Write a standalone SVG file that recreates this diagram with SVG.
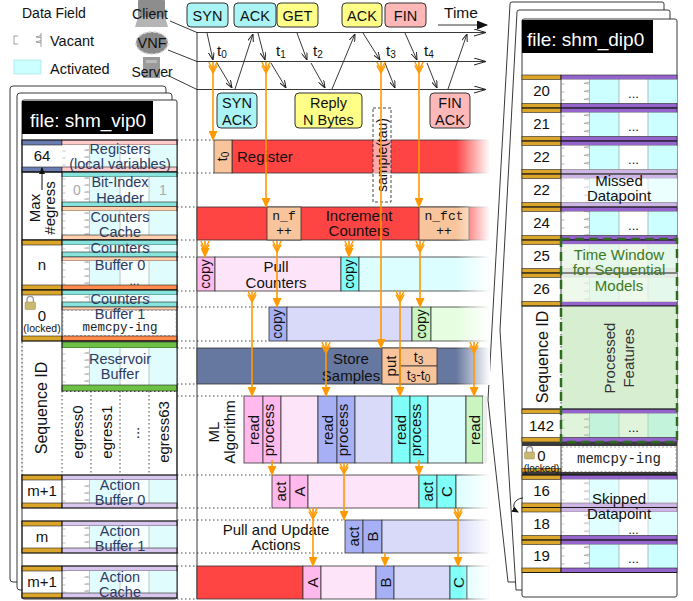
<svg xmlns="http://www.w3.org/2000/svg" width="693" height="601" viewBox="0 0 693 601" font-size="15">
<style>
text{font-family:"Liberation Sans",Arial,sans-serif;fill:#111}
.m{font-family:"Liberation Mono","DejaVu Sans Mono",monospace}
.c{text-anchor:middle}
.lt{text-anchor:middle;fill:#2d3b62;font-size:14.5px}
.ln{stroke:#222;stroke-width:0.9;fill:none}
.dot{stroke:#333;stroke-width:0.9;stroke-dasharray:1.5 2.5;fill:none}
.oa{stroke:#f90;stroke-width:1.6;fill:none}
.bx{stroke:#333;stroke-width:0.8}
.b{stroke:#222;stroke-width:0.6}
.red{fill:#ff4444}.pch{fill:#f8c49c}.pk{fill:#ffb9ec}.lpk{fill:#fde4f8}
.cy{fill:#80fff8}.lcy{fill:#ddfeff}.bl{fill:#a7b0f5}.lbl{fill:#d9dafa}
.gr{fill:#c8f5c0}.lgr{fill:#e6fde0}.dk{fill:#66789f}
.gd{fill:#dba52a;stroke:#222;stroke-width:0.6}
.pp{fill:#9464cc;stroke:#222;stroke-width:0.6}
.lp{fill:#cdb5e6;stroke:#777;stroke-width:0.6}
.tl{fill:#86e4dc;stroke:#222;stroke-width:0.6}
.pb{fill:#ffcfae;stroke:#222;stroke-width:0.6}
.ob{fill:#ff8a4c;stroke:#222;stroke-width:0.6}
.lv{fill:#d9c6ee;stroke:#222;stroke-width:0.6}
.gb{fill:#6cc043;stroke:#222;stroke-width:0.6}
.box{stroke:#333;stroke-width:1}
.fade{fill:url(#fd)}
.wt{fill:#fff}
.gt{fill:#3c7a22}
</style>
<defs>
<linearGradient id="fd"><stop offset="0" stop-color="#fff" stop-opacity="0"/><stop offset="1" stop-color="#fff" stop-opacity="1"/></linearGradient>
<pattern id="cL" patternUnits="userSpaceOnUse" x="62" y="0" width="115" height="7">
<rect width="28" height="7" fill="#fff"/>
<rect x="28" width="30" height="7" fill="#e0fcfd"/>
<rect x="58" width="29" height="7" fill="#f6fefe"/>
<rect x="87" width="28" height="7" fill="#e0fcfd"/>
<path d="M27.5,0V7M27.5,2L22.5,3.2L27.5,3.8M0.5,4H3.5M58,0V7M87,0V7" stroke="#aaa" stroke-width="0.7" fill="none"/>
</pattern>
<pattern id="cR" patternUnits="userSpaceOnUse" x="561" y="0" width="116" height="8">
<rect width="29" height="8" fill="#fff"/>
<rect x="29" width="29" height="8" fill="#ccffff"/>
<rect x="58" width="29" height="8" fill="#fff"/>
<rect x="87" width="29" height="8" fill="#ccffff"/>
<path d="M28.5,0V8M28.5,2L23,3.3L28.5,4M0.5,4H3.5M58,0V8M87,0V8" stroke="#999" stroke-width="0.7" fill="none"/>
</pattern>
<marker id="mh" viewBox="0 0 8 6" refX="8" refY="3" markerWidth="8" markerHeight="6" markerUnits="userSpaceOnUse" orient="auto"><path d="M0,0L8,3L0,6" fill="none" stroke="#222" stroke-width="1"/></marker>
<marker id="th" viewBox="0 0 12 8" refX="12" refY="4" markerWidth="12" markerHeight="8" markerUnits="userSpaceOnUse" orient="auto"><path d="M0,0.5L12,4L0,7.5" fill="none" stroke="#222" stroke-width="1"/></marker>
<marker id="tf" viewBox="0 0 11 9" refX="10" refY="4.5" markerWidth="11" markerHeight="9" markerUnits="userSpaceOnUse" orient="auto"><path d="M0,0L11,4.5L0,9z" fill="#111"/></marker>
<marker id="kh" viewBox="0 0 7 6" refX="6" refY="3" markerWidth="7" markerHeight="6" markerUnits="userSpaceOnUse" orient="auto"><path d="M0,0L7,3L0,6z" fill="#111"/></marker>
<marker id="oh" viewBox="0 0 10 9" refX="9" refY="4.5" markerWidth="10" markerHeight="9" markerUnits="userSpaceOnUse" orient="auto"><path d="M0,0L10,4.5L0,9z" fill="#f90"/></marker>
<marker id="ot" viewBox="0 0 12 10" refX="0" refY="5" markerWidth="12" markerHeight="10" markerUnits="userSpaceOnUse" orient="auto"><path d="M0,0.8L8,5L0,9.2M3.5,0.8L11,5L3.5,9.2" stroke="#f90" stroke-width="1.4" fill="none"/></marker>
</defs>

<rect width="693" height="601" fill="#fff"/>

<g id="legend">
<text x="22" y="18" font-size="14">Data Field</text>
<rect x="14" y="33" width="27" height="14" fill="#fff"/>
<path d="M14,36H18M14,44H18M14,36V44M41,33V47M41,35.5L36,37L41,37.8M41,40.5L36,42L41,42.8" stroke="#888" stroke-width="0.8" fill="none"/>
<text x="50" y="46" font-size="14.5">Vacant</text>
<rect x="14" y="60" width="27" height="14" fill="#ccffff" stroke="#9dd" stroke-width="0.6"/>
<text x="50" y="74" font-size="14.5">Activated</text>
</g>

<g id="client">
<rect x="138" y="0" width="27" height="17" rx="1" fill="#8d8d8d"/>
<path d="M138,17H165L168,27H135Z" fill="#b5b5b5"/>
<text x="150" y="18.5" font-size="14" class="c">Client</text>
</g>
<g id="vnf">
<ellipse cx="152" cy="43" rx="16" ry="11" fill="#8a8a8a" stroke="#d0d0d0" stroke-width="1.5" stroke-dasharray="3 2"/>
<text x="152" y="48" font-size="14.5" class="c">VNF</text>
</g>
<g id="server">
<rect x="143" y="57" width="17" height="21" fill="#9a9a9a"/>
<rect x="146" y="60" width="11" height="3" fill="#bbb"/>
<text x="152" y="77" font-size="14" class="c">Server</text>
</g>

<g id="msg-boxes">
<rect x="187" y="3" width="41" height="24" rx="4" fill="#aaf4f6" class="box"/>
<text x="207.5" y="20.5" class="c" font-size="14.5">SYN</text>
<rect x="234" y="3" width="42" height="24" rx="4" fill="#aaf4f6" class="box"/>
<text x="255" y="20.5" class="c" font-size="14.5">ACK</text>
<rect x="277" y="3" width="41" height="24" rx="4" fill="#ffff88" class="box"/>
<text x="297.5" y="20.5" class="c" font-size="14.5">GET</text>
<rect x="342" y="3" width="40" height="24" rx="4" fill="#ffff88" class="box"/>
<text x="362" y="20.5" class="c" font-size="14.5">ACK</text>
<rect x="385" y="3" width="41" height="24" rx="4" fill="#ffb8b8" class="box"/>
<text x="405.5" y="20.5" class="c" font-size="14.5">FIN</text>
<rect x="217" y="93" width="40" height="35" rx="4" fill="#aaf4f6" class="box"/>
<text x="237" y="108" class="c" font-size="14.5">SYN</text>
<text x="237" y="125" class="c" font-size="14.5">ACK</text>
<rect x="295" y="93" width="67" height="35" rx="4" fill="#ffff88" class="box"/>
<text x="328.5" y="108" class="c" font-size="14.5">Reply</text>
<text x="328.5" y="125" class="c" font-size="14.5">N Bytes</text>
<rect x="430" y="93" width="40" height="35" rx="4" fill="#ffb8b8" class="box"/>
<text x="450" y="108" class="c" font-size="14.5">FIN</text>
<text x="450" y="125" class="c" font-size="14.5">ACK</text>
<text x="444" y="18" font-size="15.5">Time</text>
</g>

<g id="timeline">
<path class="ln" d="M197,32V599"/>
<path class="ln" d="M197,32.5H486" marker-end="url(#th)"/>
<path class="ln" d="M197,61.5H486" marker-end="url(#th)"/>
<path class="ln" d="M197,89.5H486" marker-end="url(#th)"/>
<path class="ln" d="M170,21L197,32.5M168,50L197,61.5M167,75L197,89.5"/>
<path class="ln" d="M438,25H487" marker-end="url(#tf)"/>
<path class="ln" d="M207,33L213,60" marker-end="url(#mh)"/>
<path class="ln" d="M217,63L232,88" marker-end="url(#mh)"/>
<path class="ln" d="M235,89L253,34" marker-end="url(#mh)"/>
<path class="ln" d="M258,33L265,60" marker-end="url(#mh)"/>
<path class="ln" d="M271,63L286,88" marker-end="url(#mh)"/>
<path class="ln" d="M297,33L307,60" marker-end="url(#mh)"/>
<path class="ln" d="M311,63L325,88" marker-end="url(#mh)"/>
<path class="ln" d="M332,89L355,34" marker-end="url(#mh)"/>
<path class="ln" d="M363,33L380,60" marker-end="url(#mh)"/>
<path class="ln" d="M385,63L395,88" marker-end="url(#mh)"/>
<path class="ln" d="M405,33L417,60" marker-end="url(#mh)"/>
<path class="ln" d="M427,63L437,88" marker-end="url(#mh)"/>
<path class="ln" d="M448,89L467,34" marker-end="url(#mh)"/>
<text x="217" y="56">t<tspan font-size="10" dy="2">0</tspan></text>
<text x="276" y="56">t<tspan font-size="10" dy="2">1</tspan></text>
<text x="313" y="56">t<tspan font-size="10" dy="2">2</tspan></text>
<text x="386" y="56">t<tspan font-size="10" dy="2">3</tspan></text>
<text x="424" y="56">t<tspan font-size="10" dy="2">4</tspan></text>
</g>

<g id="left-panel">
<rect x="10" y="86" width="156" height="496" rx="3" fill="#fff" stroke="#222" stroke-width="0.9"/>
<rect x="17" y="93" width="155" height="497" rx="3" fill="#fff" stroke="#222" stroke-width="0.9"/>
<rect x="22" y="100" width="155" height="499" rx="2" fill="#fff" stroke="#222" stroke-width="0.9"/>
<rect x="22" y="101" width="131" height="33" fill="#000"/>
<text x="30" y="127" font-size="19" class="wt">file: shm_vip0</text>
</g>

<g id="registers">
<rect x="22" y="140" width="40" height="5" fill="#6a7db0" class="b"/>
<rect x="22" y="167" width="40" height="5" fill="#6a7db0" class="b"/>
<rect x="62" y="140" width="115" height="5" fill="#ffcaca" class="b"/>
<rect x="62" y="145" width="115" height="22" fill="url(#cL)"/>
<rect x="62" y="167" width="115" height="5" fill="#ffcaca" class="b"/>
<rect x="22" y="140" width="155" height="32" fill="none" stroke="#111" stroke-width="0.9"/>
<text x="42" y="161" class="c">64</text>
<text x="120" y="154" class="lt">Registers</text>
<text x="120" y="169" class="lt">(local variables)</text>
</g>

<g id="header-cache">
<rect x="62" y="172" width="115" height="5" class="tl"/>
<rect x="62" y="177" width="115" height="25" fill="url(#cL)"/>
<rect x="62" y="202" width="115" height="4.5" class="tl"/>
<rect x="62" y="206.5" width="115" height="4.5" class="pb"/>
<rect x="62" y="211" width="115" height="24" fill="url(#cL)"/>
<rect x="62" y="235" width="115" height="5" class="pb"/>
<rect x="22" y="172" width="155" height="68" fill="none" stroke="#111" stroke-width="0.9"/>
<line x1="62" y1="172" x2="62" y2="240" stroke="#111" stroke-width="0.9"/>
<text x="77" y="195" class="c" font-size="14" style="fill:#aaa">0</text>
<text x="163" y="195" class="c" font-size="14" style="fill:#aaa">1</text>
<text x="120" y="187" class="lt">Bit-Index</text>
<text x="120" y="203" class="lt">Header</text>
<text x="120" y="222" class="lt">Counters</text>
<text x="120" y="237" class="lt">Cache</text>
<text transform="translate(39.5,208) rotate(-90)" class="c">Max</text>
<text transform="translate(55,208) rotate(-90)" class="c">#egress</text>
<path d="M42,190V168" stroke="#111" stroke-width="1" marker-end="url(#kh)"/>
</g>

<g id="counters-buffer0">
<rect x="22" y="240" width="40" height="5" class="gd"/>
<rect x="22" y="285" width="40" height="5" class="gd"/>
<rect x="62" y="240" width="115" height="5" class="tl"/>
<rect x="62" y="245" width="115" height="7" fill="url(#cL)"/>
<rect x="62" y="252" width="115" height="5" class="tl"/>
<rect x="62" y="257" width="115" height="4" class="pb"/>
<rect x="62" y="261" width="115" height="24" fill="url(#cL)"/>
<rect x="62" y="285" width="115" height="5" class="ob"/>
<rect x="22" y="240" width="155" height="50" fill="none" stroke="#111" stroke-width="0.9"/>
<line x1="62" y1="240" x2="62" y2="290" stroke="#111" stroke-width="0.9"/>
<text x="42" y="270" class="c">n</text>
<text x="120" y="253" class="lt">Counters</text>
<text x="120" y="270" class="lt">Buffer 0</text>
<text x="134.5" y="284.5" class="c" font-size="12">...</text>
</g>

<g id="counters-buffer1">
<rect x="22" y="290" width="40" height="5" class="gd"/>
<rect x="22" y="336" width="40" height="5" class="gd"/>
<rect x="62" y="290" width="115" height="5" class="tl"/>
<rect x="62" y="295" width="115" height="7" fill="url(#cL)"/>
<rect x="62" y="302" width="115" height="5" class="tl"/>
<rect x="62" y="307" width="115" height="3" class="pb"/>
<rect x="63" y="310.5" width="113" height="25" fill="#fff" stroke="#999" stroke-width="0.7" stroke-dasharray="2 2"/>
<rect x="62" y="336" width="115" height="5" class="ob"/>
<rect x="22" y="290" width="155" height="51" fill="none" stroke="#111" stroke-width="0.9"/>
<line x1="62" y1="290" x2="62" y2="341" stroke="#111" stroke-width="0.9"/>
<path d="M27,302V299.5A3.2,3.2 0 0 1 33.4,299.5V302" fill="none" stroke="#999" stroke-width="1.3"/>
<rect x="25" y="302" width="10.5" height="7.5" rx="1" fill="#c8b870" stroke="#9a8a50" stroke-width="0.5"/>
<text x="42" y="321" class="c">0</text>
<text x="42" y="332" class="c" font-size="10.5">(locked)</text>
<text x="120" y="304" class="lt">Counters</text>
<text x="120" y="319" class="lt">Buffer 1</text>
<text x="120" y="331" class="c m" font-size="12.5" style="fill:#222">memcpy-ing</text>
</g>

<g id="reservoir-buffer">
<rect x="62" y="342" width="115" height="6" class="gb"/>
<rect x="62" y="348" width="115" height="37" fill="url(#cL)"/>
<rect x="62" y="385" width="115" height="6" class="gb"/>
<line x1="62" y1="341" x2="177" y2="341" stroke="#111" stroke-width="0.9"/>
<line x1="177" y1="341" x2="177" y2="475" stroke="#111" stroke-width="0.9"/>
<line x1="62" y1="341" x2="62" y2="391" stroke="#111" stroke-width="0.9"/>
<line x1="22" y1="342" x2="22" y2="474" stroke="#fff" stroke-width="1.6"/>
<path class="dot" d="M22,342V475M62,391V475M91,391V475M120,391V475M149,391V475M62,391.5H177"/>
<text x="120" y="364" class="lt">Reservoir</text>
<text x="120" y="379" class="lt">Buffer</text>
<text transform="translate(47,408) rotate(-90)" class="c" font-size="16">Sequence ID</text>
<text transform="translate(83,432) rotate(-90)" class="c">egress0</text>
<text transform="translate(111.5,432) rotate(-90)" class="c">egress1</text>
<text transform="translate(139,433) rotate(-90)" class="c">...</text>
<text transform="translate(169,432) rotate(-90)" class="c">egress63</text>
</g>

<g id="action-buffer0">
<rect x="22" y="475" width="40" height="5" class="gd"/>
<rect x="22" y="503" width="40" height="5" class="gd"/>
<rect x="62" y="475" width="115" height="5" class="lv"/>
<rect x="62" y="480" width="115" height="23" fill="url(#cL)"/>
<rect x="62" y="503" width="115" height="5" class="lv"/>
<rect x="22" y="475" width="155" height="33" fill="none" stroke="#111" stroke-width="0.9"/>
<line x1="62" y1="475" x2="62" y2="508" stroke="#111" stroke-width="0.9"/>
<text x="42" y="496" class="c">m+1</text>
<text x="120" y="490" class="lt">Action</text>
<text x="120" y="505" class="lt">Buffer 0</text>
</g>
<g id="action-buffer1">
<rect x="22" y="521" width="40" height="5" class="gd"/>
<rect x="22" y="548" width="40" height="5" class="gd"/>
<rect x="62" y="521" width="115" height="5" class="lv"/>
<rect x="62" y="526" width="115" height="22" fill="url(#cL)"/>
<rect x="62" y="548" width="115" height="5" class="lv"/>
<rect x="22" y="521" width="155" height="32" fill="none" stroke="#111" stroke-width="0.9"/>
<line x1="62" y1="521" x2="62" y2="553" stroke="#111" stroke-width="0.9"/>
<text x="42" y="542" class="c">m</text>
<text x="120" y="536" class="lt">Action</text>
<text x="120" y="551" class="lt">Buffer 1</text>
</g>
<g id="action-cache">
<rect x="22" y="566" width="40" height="5" class="gd"/>
<rect x="22" y="593" width="40" height="5" class="gd"/>
<rect x="62" y="566" width="115" height="5" class="lv"/>
<rect x="62" y="571" width="115" height="22" fill="url(#cL)"/>
<rect x="62" y="593" width="115" height="5" class="lv"/>
<rect x="22" y="566" width="155" height="32" fill="none" stroke="#111" stroke-width="0.9"/>
<line x1="62" y1="566" x2="62" y2="598" stroke="#111" stroke-width="0.9"/>
<text x="42" y="587" class="c">m+1</text>
<text x="120" y="582" class="lt">Action</text>
<text x="120" y="597" class="lt">Cache</text>
</g>

<g id="right-panel">
<path d="M664,19V4Q664,2 662,2H512Q510,2 510,4L488,400L508,582H522" fill="#fff" stroke="#222" stroke-width="0.9"/>
<path d="M670,19V12Q670,10 668,10H519Q517,10 517,12L500,330L516,590H522" fill="#fff" stroke="#222" stroke-width="0.9"/>
<rect x="522" y="19" width="155" height="578" rx="2" fill="#fff" stroke="#222" stroke-width="0.9"/>
<rect x="522" y="20" width="131" height="33" fill="#000"/>
<text x="527" y="46" font-size="19" class="wt">file: shm_dip0</text>
</g>

<g id="dip-rows">
<g id="row20">
<rect x="522" y="75" width="39" height="4.5" class="gd"/><rect x="561" y="75" width="116" height="4.5" class="pp"/>
<rect x="561" y="79.5" width="116" height="24" fill="url(#cR)"/>
<rect x="522" y="103.5" width="39" height="4.5" class="gd"/><rect x="561" y="103.5" width="116" height="4.5" class="pp"/>
<text x="541.5" y="96" class="c">20</text><text x="633.5" y="98" class="c" font-size="13">...</text>
</g>
<g id="row21">
<rect x="522" y="108" width="39" height="4.5" class="gd"/><rect x="561" y="108" width="116" height="4.5" class="pp"/>
<rect x="561" y="112.5" width="116" height="24" fill="url(#cR)"/>
<rect x="522" y="136.5" width="39" height="4.5" class="gd"/><rect x="561" y="136.5" width="116" height="4.5" class="pp"/>
<text x="541.5" y="129" class="c">21</text><text x="633.5" y="131" class="c" font-size="13">...</text>
</g>
<g id="row22">
<rect x="522" y="141" width="39" height="4.5" class="gd"/><rect x="561" y="141" width="116" height="4.5" class="pp"/>
<rect x="561" y="145.5" width="116" height="24" fill="url(#cR)"/>
<rect x="522" y="169.5" width="39" height="4.5" class="gd"/><rect x="561" y="169.5" width="116" height="4.5" class="lp"/>
<text x="541.5" y="162" class="c">22</text><text x="633.5" y="164" class="c" font-size="13">...</text>
</g>
<g id="row22-missed">
<rect x="522" y="174" width="39" height="4.5" class="gd"/><rect x="561" y="174" width="116" height="4.5" class="lp"/>
<rect x="561" y="178.5" width="116" height="24" fill="url(#cR)"/>
<rect x="561" y="178.5" width="116" height="24" fill="#fff" opacity="0.6"/>
<rect x="522" y="202.5" width="39" height="4.5" class="gd"/><rect x="561" y="202.5" width="116" height="4.5" class="lp"/>
<text x="541.5" y="195" class="c">22</text>
<text x="619" y="186" class="c">Missed</text>
<text x="619" y="201" class="c">Datapoint</text>
</g>
<g id="row24">
<rect x="522" y="207" width="39" height="4.5" class="gd"/><rect x="561" y="207" width="116" height="4.5" class="pp"/>
<rect x="561" y="211.5" width="116" height="24" fill="url(#cR)"/>
<rect x="522" y="235.5" width="39" height="4.5" class="gd"/><rect x="561" y="235.5" width="116" height="4.5" class="pp"/>
<text x="541.5" y="228" class="c">24</text><text x="633.5" y="230" class="c" font-size="13">...</text>
</g>
<g id="row25">
<rect x="522" y="240" width="39" height="4.5" class="gd"/><rect x="561" y="240" width="116" height="4.5" class="pp"/>
<rect x="561" y="244.5" width="116" height="24" fill="url(#cR)"/>
<rect x="522" y="268.5" width="39" height="4.5" class="gd"/><rect x="561" y="268.5" width="116" height="4.5" class="lp"/>
<text x="541.5" y="261" class="c">25</text>
</g>
<g id="row26">
<rect x="522" y="273" width="39" height="4.5" class="gd"/><rect x="561" y="273" width="116" height="4.5" class="lp"/>
<rect x="561" y="277.5" width="116" height="24" fill="url(#cR)"/>
<rect x="522" y="301.5" width="39" height="4.5" class="gd"/><rect x="561" y="301.5" width="116" height="4.5" class="pp"/>
<text x="541.5" y="294" class="c">26</text>
</g>
<rect x="561" y="244" width="116" height="58" fill="#eaf6e6" opacity="0.8"/>
<g id="seq-area">
<rect x="561" y="306" width="116" height="103" fill="#d8eed0"/>
<path class="dot" d="M561,306V409"/>
<text transform="translate(548,357) rotate(-90)" class="c" font-size="16">Sequence ID</text>
<text transform="translate(614.5,358) rotate(-90)" class="c" style="fill:#333">Processed</text>
<text transform="translate(634,358) rotate(-90)" class="c" style="fill:#333">Features</text>
</g>
<g id="row142">
<rect x="522" y="409" width="39" height="4.5" class="gd"/><rect x="561" y="409" width="116" height="4.5" class="pp"/>
<rect x="561" y="413.5" width="116" height="24" fill="url(#cR)"/>
<rect x="561" y="413.5" width="116" height="24" fill="#b8e6b0" opacity="0.45"/>
<rect x="522" y="437.5" width="39" height="4.5" class="gd"/><rect x="561" y="437.5" width="116" height="4.5" class="pp"/>
<text x="541.5" y="431" class="c">142</text><text x="633.5" y="432" class="c" font-size="13">...</text>
</g>
<g id="row-locked">
<rect x="522" y="442" width="155" height="4" fill="#3a3a3a"/>
<rect x="522" y="468.5" width="39" height="3.5" class="gd"/>
<rect x="522" y="472" width="155" height="3" fill="#3a3a3a"/>
<rect x="562" y="447" width="114" height="24.5" fill="#fff" stroke="#888" stroke-width="0.7" stroke-dasharray="2 2"/>
<path d="M526.5,452V449.5A3,3 0 0 1 532.5,449.5V452" fill="none" stroke="#999" stroke-width="1.3"/>
<rect x="524.5" y="452" width="10" height="7" rx="1" fill="#c8b870" stroke="#9a8a50" stroke-width="0.5"/>
<text x="541.5" y="461" class="c">0</text>
<text x="541.5" y="471.5" class="c" font-size="10">(locked)</text>
<text x="619" y="463" class="c m" font-size="14" style="fill:#222">memcpy-ing</text>
</g>
<g id="row16">
<rect x="522" y="475" width="39" height="4.5" class="gd"/><rect x="561" y="475" width="116" height="4.5" class="pp"/>
<rect x="561" y="479.5" width="116" height="23.5" fill="url(#cR)"/>
<rect x="561" y="479.5" width="116" height="23.5" fill="#fff" opacity="0.4"/>
<rect x="522" y="503" width="39" height="4.5" class="gd"/><rect x="561" y="503" width="116" height="4.5" class="lp"/>
<text x="541.5" y="496" class="c">16</text>
</g>
<g id="row18">
<rect x="522" y="507.5" width="39" height="4.5" class="gd"/><rect x="561" y="507.5" width="116" height="4.5" class="lp"/>
<rect x="561" y="512" width="116" height="23.5" fill="url(#cR)"/>
<rect x="561" y="512" width="116" height="23.5" fill="#fff" opacity="0.4"/>
<rect x="522" y="535.5" width="39" height="4.5" class="gd"/><rect x="561" y="535.5" width="116" height="4.5" class="pp"/>
<text x="541.5" y="529" class="c">18</text>
<text x="633.5" y="533.5" class="c" font-size="12">...</text>
<text x="619" y="504" class="c">Skipped</text>
<text x="619" y="519" class="c">Datapoint</text>
</g>
<g id="row19">
<rect x="522" y="540" width="39" height="4.5" class="gd"/><rect x="561" y="540" width="116" height="4.5" class="pp"/>
<rect x="561" y="544.5" width="116" height="23.5" fill="url(#cR)"/>
<rect x="522" y="568" width="39" height="4.5" class="gd"/><rect x="561" y="568" width="116" height="4.5" class="pp"/>
<text x="541.5" y="561" class="c">19</text><text x="633.5" y="563" class="c" font-size="13">...</text>
</g>
<path d="M561,75V306M561,409V475M561,475V572.5" stroke="#222" stroke-width="0.8"/>
<path d="M522,108H677M522,141H677M522,174H677M522,207H677M522,240H677M522,273H677M522,306H677M522,409H677M522,475H677M522,507.5H677M522,540H677M522,572.5H677" stroke="#111" stroke-width="0.9"/>
<rect x="561" y="239" width="116" height="203" fill="none" stroke="#2e6b1e" stroke-width="2.5" stroke-dasharray="9 5"/>
<text x="619" y="260" class="c gt">Time Window</text>
<text x="619" y="275" class="c gt">for Sequential</text>
<text x="619" y="291" class="c gt">Models</text>
<path d="M523,498C513,499 511,508 518,512" fill="none" stroke="#111" stroke-width="0.9" marker-end="url(#kh)"/>
</g>

<g id="dotted-guides">
<path class="dot" d="M177,140H214M177,173H214M177,207H197M177,240H197M177,257H197M177,291H197M177,307H269M177,341H269M177,348H197M177,384H197M177,396H244M177,475H272M177,508H272M177,520H345M177,553H345M177,566H197M177,599H197"/>
</g>

<g id="register-row">
<rect x="232" y="140" width="257" height="33" class="red bx"/>
<rect x="214" y="140" width="18" height="33" class="pch bx"/>
<text transform="translate(227,156.5) rotate(-90)" class="c" font-size="14">t<tspan font-size="10" dy="2">0</tspan></text>
<text x="237" y="162">Register</text>
<rect x="456" y="139" width="34" height="35" class="fade"/>
</g>
<g id="increment-counters">
<rect x="197" y="207" width="292" height="33" class="red bx"/>
<rect x="267" y="207" width="34" height="33" class="pch bx"/>
<rect x="419" y="207" width="50" height="33" class="pch bx"/>
<text x="284" y="220" class="c m" font-size="13">n_f</text>
<text x="284" y="235" class="c m" font-size="13">++</text>
<text x="444" y="220" class="c m" font-size="13">n_fct</text>
<text x="444" y="235" class="c m" font-size="13">++</text>
<text x="359" y="221" class="c">Increment</text>
<text x="359" y="236" class="c">Counters</text>
<rect x="456" y="206" width="34" height="35" class="fade"/>
</g>
<g id="pull-counters">
<rect x="197" y="257" width="18" height="34" class="pk bx"/>
<rect x="215" y="257" width="126" height="34" class="lpk bx"/>
<rect x="341" y="257" width="18" height="34" class="cy bx"/>
<rect x="359" y="257" width="130" height="34" class="lcy bx"/>
<text transform="translate(210,274) rotate(-90)" class="c" font-size="14">copy</text>
<text transform="translate(354,274) rotate(-90)" class="c" font-size="14">copy</text>
<text x="276" y="272" class="c">Pull</text>
<text x="276" y="288" class="c">Counters</text>
<rect x="456" y="256" width="34" height="36" class="fade"/>
</g>
<g id="buffer1-row">
<rect x="269" y="307" width="18" height="34" class="bl bx"/>
<rect x="287" y="307" width="125" height="34" class="lbl bx"/>
<rect x="412" y="307" width="19" height="34" class="gr bx"/>
<rect x="431" y="307" width="58" height="34" class="lgr bx"/>
<text transform="translate(282,324) rotate(-90)" class="c" font-size="14">copy</text>
<text transform="translate(425.5,324) rotate(-90)" class="c" font-size="14">copy</text>
<rect x="456" y="306" width="34" height="36" class="fade"/>
</g>
<g id="store-samples">
<rect x="197" y="348" width="292" height="36" class="dk bx"/>
<rect x="382" y="348" width="18" height="36" class="pch bx"/>
<rect x="400" y="348" width="37" height="18" class="pch bx"/>
<rect x="400" y="366" width="37" height="18" class="pch bx"/>
<text x="351" y="364" class="c">Store</text>
<text x="351" y="381" class="c">Samples</text>
<text transform="translate(396,366) rotate(-90)" class="c">put</text>
<text x="418.5" y="362" class="c" font-size="14">t<tspan font-size="10" dy="2">3</tspan></text>
<text x="418.5" y="380" class="c" font-size="14">t<tspan font-size="10" dy="2">3</tspan><tspan dy="-2">-t</tspan><tspan font-size="10" dy="2">0</tspan></text>
<rect x="456" y="347" width="34" height="38" class="fade"/>
</g>
<g id="ml-algorithm">
<rect x="244" y="396" width="19" height="67" class="pk bx"/>
<rect x="263" y="396" width="18" height="67" class="pk bx"/>
<rect x="281" y="396" width="37" height="67" class="lpk bx"/>
<rect x="318" y="396" width="19" height="67" class="bl bx"/>
<rect x="337" y="396" width="18" height="67" class="bl bx"/>
<rect x="355" y="396" width="37" height="67" class="lbl bx"/>
<rect x="392" y="396" width="18" height="67" class="cy bx"/>
<rect x="410" y="396" width="18" height="67" class="cy bx"/>
<rect x="428" y="396" width="38" height="67" class="lcy bx"/>
<rect x="466" y="396" width="17" height="67" class="gr bx"/>
<rect x="483" y="396" width="4" height="67" fill="#eee"/>
<text transform="translate(219,432) rotate(-90)" class="c">ML</text>
<text transform="translate(235,432) rotate(-90)" class="c">Algorithm</text>
<text transform="translate(258.5,430) rotate(-90)" class="c">read</text>
<text transform="translate(274,430) rotate(-90)" class="c">process</text>
<text transform="translate(332.5,430) rotate(-90)" class="c">read</text>
<text transform="translate(348,430) rotate(-90)" class="c">process</text>
<text transform="translate(406,430) rotate(-90)" class="c">read</text>
<text transform="translate(421,430) rotate(-90)" class="c">process</text>
<text transform="translate(479.5,430) rotate(-90)" class="c">read</text>
</g>
<g id="action-row0">
<rect x="272" y="475" width="18" height="33" class="pk bx"/>
<rect x="290" y="475" width="18" height="33" class="pk bx"/>
<rect x="308" y="475" width="111" height="33" class="lpk bx"/>
<rect x="419" y="475" width="18" height="33" class="cy bx"/>
<rect x="437" y="475" width="19" height="33" class="cy bx"/>
<rect x="456" y="475" width="33" height="33" class="lcy bx"/>
<text transform="translate(285.5,491.5) rotate(-90)" class="c">act</text>
<text transform="translate(304.5,491.5) rotate(-90)" class="c">A</text>
<text transform="translate(432.5,491.5) rotate(-90)" class="c">act</text>
<text transform="translate(452,491.5) rotate(-90)" class="c">C</text>
<rect x="458" y="474" width="32" height="35" class="fade"/>
</g>
<g id="action-row1">
<rect x="345" y="520" width="18" height="33" class="bl bx"/>
<rect x="363" y="520" width="19" height="33" class="bl bx"/>
<rect x="382" y="520" width="107" height="33" class="lbl bx"/>
<text transform="translate(358.5,536.5) rotate(-90)" class="c">act</text>
<text transform="translate(378,536.5) rotate(-90)" class="c">B</text>
<text x="276" y="535" class="c">Pull and Update</text>
<text x="276" y="550" class="c">Actions</text>
<rect x="456" y="519" width="34" height="35" class="fade"/>
</g>
<g id="action-cache-row">
<rect x="197" y="566" width="106" height="33" class="red bx"/>
<rect x="303" y="566" width="18" height="33" class="pk bx"/>
<rect x="321" y="566" width="55" height="33" class="lpk bx"/>
<rect x="376" y="566" width="18" height="33" class="bl bx"/>
<rect x="394" y="566" width="56" height="33" class="lbl bx"/>
<rect x="450" y="566" width="17" height="33" class="cy bx"/>
<rect x="467" y="566" width="22" height="33" class="lcy bx"/>
<text transform="translate(317.5,582.5) rotate(-90)" class="c">A</text>
<text transform="translate(390.5,582.5) rotate(-90)" class="c">B</text>
<text transform="translate(464,582.5) rotate(-90)" class="c">C</text>
<rect x="460" y="565" width="30" height="35" class="fade"/>
</g>

<g id="sample-box">
<rect x="373" y="108" width="18" height="94" fill="#fff" fill-opacity="0.55" stroke="#333" stroke-width="0.9" stroke-dasharray="3 2"/>
<text transform="translate(386.5,155) rotate(-90)" class="c" font-size="14">sample(tau)</text>
</g>

<g id="connectors">
<path class="oa" d="M213,62V140" marker-start="url(#ot)" marker-end="url(#oh)"/>
<path class="oa" d="M266,62V207" marker-start="url(#ot)" marker-end="url(#oh)"/>
<path class="oa" d="M381,62V348" marker-start="url(#ot)" marker-end="url(#oh)"/>
<path class="oa" d="M419,62V207" marker-start="url(#ot)" marker-end="url(#oh)"/>
<path class="oa" d="M205,241V257" marker-start="url(#ot)" marker-end="url(#oh)"/>
<path class="oa" d="M277,241V307" marker-start="url(#ot)" marker-end="url(#oh)"/>
<path class="oa" d="M349,241V257" marker-start="url(#ot)" marker-end="url(#oh)"/>
<path class="oa" d="M420,241V307" marker-start="url(#ot)" marker-end="url(#oh)"/>
<path class="oa" d="M252,291V396" marker-start="url(#ot)" marker-end="url(#oh)"/>
<path class="oa" d="M400,291V396" marker-start="url(#ot)" marker-end="url(#oh)"/>
<path class="oa" d="M326,342V396" marker-start="url(#ot)" marker-end="url(#oh)"/>
<path class="oa" d="M474,342V396" marker-start="url(#ot)" marker-end="url(#oh)"/>
<path class="oa" d="M272,460V475" marker-end="url(#oh)"/>
<path class="oa" d="M344,463V520" marker-start="url(#ot)" marker-end="url(#oh)"/>
<path class="oa" d="M419,460V475" marker-end="url(#oh)"/>
<path class="oa" d="M313,508V566" marker-start="url(#ot)" marker-end="url(#oh)"/>
<path class="oa" d="M385,553V566" marker-end="url(#oh)"/>
<path class="oa" d="M458,508V566" marker-start="url(#ot)" marker-end="url(#oh)"/>
</g>
</svg>
